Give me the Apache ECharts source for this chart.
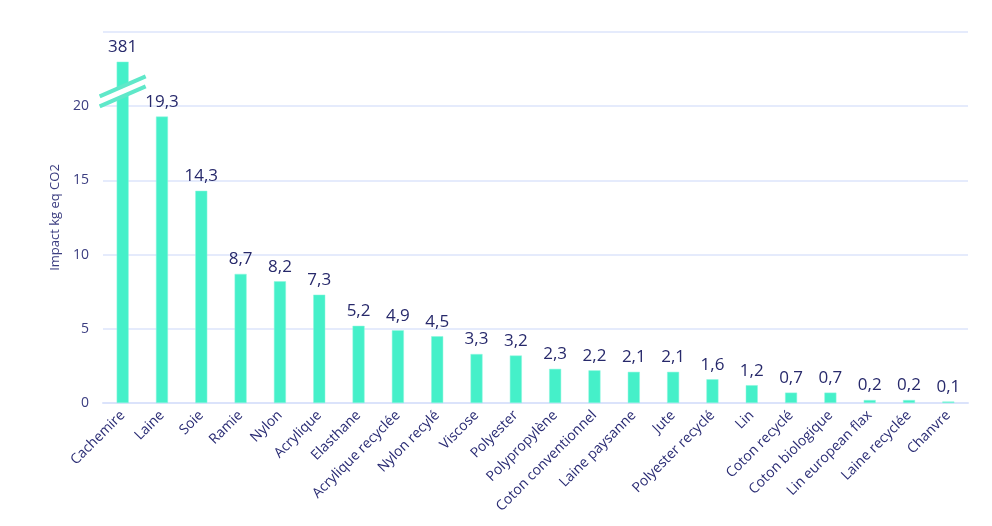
<!DOCTYPE html>
<html>
<head>
<meta charset="utf-8">
<style>
  html, body { margin: 0; padding: 0; background: #fff; }
  #chart { width: 992px; height: 526px; }
</style>
<script src="https://cdn.jsdelivr.net/npm/echarts@6/dist/echarts.min.js"></script>
</head>
<body>
<div id="chart"></div>
<script>
// matières et impact (kg eq CO2)
const fibres = ['Cachemire', 'Laine', 'Soie', 'Ramie', 'Nylon', 'Acrylique', 'Elasthane',
  'Acrylique recyclée', 'Nylon recylé', 'Viscose', 'Polyester', 'Polypropylène',
  'Coton conventionnel', 'Laine paysanne', 'Jute', 'Polyester recyclé', 'Lin',
  'Coton recyclé', 'Coton biologique', 'Lin european flax', 'Laine recyclée', 'Chanvre'];
const impacts = [381, 19.3, 14.3, 8.7, 8.2, 7.3, 5.2, 4.9, 4.5, 3.3, 3.2, 2.3,
  2.2, 2.1, 2.1, 1.6, 1.2, 0.7, 0.7, 0.2, 0.2, 0.1];
const yTicks = [0, 5, 10, 15, 20];

// axe coupé : les barres au-dessus de 23 sont tronquées
const cap = 23;
const breakAt = 21;

const teal = '#45F0C9';
const navy = '#27296b';

const chart = echarts.init(document.getElementById('chart'));

const barData = impacts.map(v => ({ value: Math.min(v, cap), real: v }));
const breaks = impacts.map((v, i) => v > cap ? [i, breakAt] : null).filter(Boolean);

chart.setOption({
  backgroundColor: '#fff',
  grid: { left: 103, right: 24, top: 32, bottom: 123 },
  xAxis: {
    type: 'category',
    data: fibres,
    axisLine: { show: true, lineStyle: { color: '#dbe3fb', width: 2 } },
    axisTick: { show: false },
    axisLabel: {
      interval: 0,
      rotate: 45,
      color: '#2a2c74',
      fontFamily: 'Open Sans',
      fontSize: 14,
      margin: 10
    }
  },
  yAxis: {
    type: 'value',
    min: 0,
    max: 25,
    interval: 5,
    name: 'Impact kg eq CO2',
    nameLocation: 'middle',
    nameGap: 38,
    nameTextStyle: { color: '#3b3d80', fontFamily: 'Open Sans', fontSize: 13 },
    axisLine: { show: false },
    axisTick: { show: false },
    splitLine: { lineStyle: { color: '#dde4fb', width: 1.5 } },
    axisLabel: {
      color: '#3b3d80',
      fontFamily: 'Open Sans',
      fontSize: 14,
      margin: 14,
      formatter: v => yTicks.includes(v) ? String(v) : ''
    }
  },
  series: [{
    type: 'bar',
    data: barData,
    barWidth: 12,
    itemStyle: { color: teal, borderColor: '#8ff7de', borderWidth: 0.5 },
    label: {
      show: true,
      position: 'top',
      distance: 6,
      color: navy,
      fontFamily: 'Open Sans',
      fontSize: 17,
      formatter: p => String(p.data.real).replace('.', ',')
    }
  }, {
    type: 'custom',
    data: breaks,
    z: 10,
    silent: true,
    renderItem: (params, api) => {
      const c = api.coord([api.value(0), api.value(1)]);
      const dx = 23, dy = -10, off = 5;
      return {
        type: 'group',
        children: [{
          type: 'polygon',
          shape: { points: [
            [c[0] - dx, c[1] - dy - off], [c[0] + dx, c[1] + dy - off],
            [c[0] + dx, c[1] + dy + off], [c[0] - dx, c[1] - dy + off]] },
          style: { fill: '#fff' }
        }, {
          type: 'line',
          shape: { x1: c[0] - dx, y1: c[1] - dy - off, x2: c[0] + dx, y2: c[1] + dy - off },
          style: { stroke: '#5fe8c9', lineWidth: 4 }
        }, {
          type: 'line',
          shape: { x1: c[0] - dx, y1: c[1] - dy + off, x2: c[0] + dx, y2: c[1] + dy + off },
          style: { stroke: '#5fe8c9', lineWidth: 4 }
        }]
      };
    }
  }]
});
</script>
</body>
</html>
